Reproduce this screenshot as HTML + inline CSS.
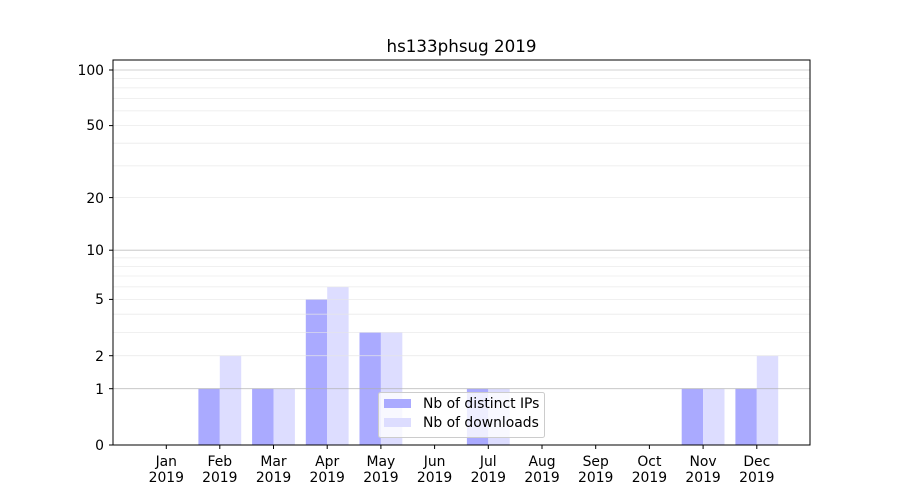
<!DOCTYPE html>
<html><head><meta charset="utf-8"><style>body{margin:0;background:#fff}svg{display:block}text{font-family:"DejaVu Sans","Liberation Sans",sans-serif;font-size:13.9px;fill:#000}</style></head><body>
<svg width="900" height="500" viewBox="0 0 900 500">
<rect width="900" height="500" fill="#fff"/>
<g fill="#aaaaff">
<rect x="198.4" y="388.7" width="21.4" height="56.3"/>
<rect x="252.1" y="388.7" width="21.4" height="56.3"/>
<rect x="305.8" y="299.4" width="21.4" height="145.6"/>
<rect x="359.5" y="332.4" width="21.4" height="112.6"/>
<rect x="466.9" y="388.7" width="21.4" height="56.3"/>
<rect x="681.7" y="388.7" width="21.4" height="56.3"/>
<rect x="735.4" y="388.7" width="21.4" height="56.3"/>
</g>
<g fill="#ddddff">
<rect x="219.8" y="355.7" width="21.4" height="89.3"/>
<rect x="273.5" y="388.7" width="21.4" height="56.3"/>
<rect x="327.2" y="286.9" width="21.4" height="158.1"/>
<rect x="380.9" y="332.4" width="21.4" height="112.6"/>
<rect x="488.3" y="388.7" width="21.4" height="56.3"/>
<rect x="703.1" y="388.7" width="21.4" height="56.3"/>
<rect x="756.8" y="355.7" width="21.4" height="89.3"/>
</g>
<g stroke="#e6e6e6" stroke-width="0.8" opacity="0.8">
<line x1="113" x2="810" y1="355.7" y2="355.7"/><line x1="113" x2="810" y1="332.4" y2="332.4"/><line x1="113" x2="810" y1="314.2" y2="314.2"/><line x1="113" x2="810" y1="299.4" y2="299.4"/><line x1="113" x2="810" y1="286.9" y2="286.9"/><line x1="113" x2="810" y1="276.0" y2="276.0"/><line x1="113" x2="810" y1="266.5" y2="266.5"/><line x1="113" x2="810" y1="257.9" y2="257.9"/>
<line x1="113" x2="810" y1="197.6" y2="197.6"/><line x1="113" x2="810" y1="165.9" y2="165.9"/><line x1="113" x2="810" y1="143.2" y2="143.2"/><line x1="113" x2="810" y1="125.6" y2="125.6"/><line x1="113" x2="810" y1="110.9" y2="110.9"/><line x1="113" x2="810" y1="98.6" y2="98.6"/><line x1="113" x2="810" y1="87.9" y2="87.9"/><line x1="113" x2="810" y1="78.4" y2="78.4"/>
</g>
<g stroke="#b0b0b0" stroke-width="0.8" opacity="0.8">
<line x1="113" x2="810" y1="388.7" y2="388.7"/><line x1="113" x2="810" y1="250.2" y2="250.2"/><line x1="113" x2="810" y1="70" y2="70"/>
</g>
<rect x="113" y="60" width="697" height="385" fill="none" stroke="#000" stroke-width="1"/>
<g stroke="#000" stroke-width="1">
<line x1="113" x2="109" y1="445" y2="445"/><line x1="113" x2="109" y1="388.7" y2="388.7"/><line x1="113" x2="109" y1="355.7" y2="355.7"/><line x1="113" x2="109" y1="299.4" y2="299.4"/><line x1="113" x2="109" y1="250.2" y2="250.2"/><line x1="113" x2="109" y1="197.6" y2="197.6"/><line x1="113" x2="109" y1="125.6" y2="125.6"/><line x1="113" x2="109" y1="70" y2="70"/>
<line x1="166.3" x2="166.3" y1="445" y2="449"/><line x1="219.8" x2="219.8" y1="445" y2="449"/><line x1="273.5" x2="273.5" y1="445" y2="449"/><line x1="327.2" x2="327.2" y1="445" y2="449"/><line x1="380.9" x2="380.9" y1="445" y2="449"/><line x1="434.6" x2="434.6" y1="445" y2="449"/><line x1="488.3" x2="488.3" y1="445" y2="449"/><line x1="542" x2="542" y1="445" y2="449"/><line x1="595.7" x2="595.7" y1="445" y2="449"/><line x1="649.4" x2="649.4" y1="445" y2="449"/><line x1="703.1" x2="703.1" y1="445" y2="449"/><line x1="756.8" x2="756.8" y1="445" y2="449"/>
</g>
<g text-anchor="end">
<text x="104" y="450">0</text><text x="104" y="394">1</text><text x="104" y="361">2</text><text x="104" y="304">5</text><text x="104" y="255">10</text><text x="104" y="203">20</text><text x="104" y="130">50</text><text x="104" y="75">100</text>
</g>
<g text-anchor="middle">
<text x="166.3" y="466">Jan</text><text x="166.3" y="482">2019</text>
<text x="219.8" y="466">Feb</text><text x="219.8" y="482">2019</text>
<text x="273.5" y="466">Mar</text><text x="273.5" y="482">2019</text>
<text x="327.2" y="466">Apr</text><text x="327.2" y="482">2019</text>
<text x="380.9" y="466">May</text><text x="380.9" y="482">2019</text>
<text x="434.6" y="466">Jun</text><text x="434.6" y="482">2019</text>
<text x="488.3" y="466">Jul</text><text x="488.3" y="482">2019</text>
<text x="542" y="466">Aug</text><text x="542" y="482">2019</text>
<text x="595.7" y="466">Sep</text><text x="595.7" y="482">2019</text>
<text x="649.4" y="466">Oct</text><text x="649.4" y="482">2019</text>
<text x="703.1" y="466">Nov</text><text x="703.1" y="482">2019</text>
<text x="756.8" y="466">Dec</text><text x="756.8" y="482">2019</text>
<text x="461.5" y="52" style="font-size:16.7px">hs133phsug 2019</text>
</g>
<rect x="378.5" y="392.5" width="166" height="45" rx="2" fill="#fff" fill-opacity="0.8" stroke="#cccccc"/>
<rect x="384" y="399" width="27" height="9" fill="#aaaaff"/>
<rect x="384" y="418" width="27" height="9" fill="#ddddff"/>
<text x="423" y="408">Nb of distinct IPs</text>
<text x="423" y="427">Nb of downloads</text>
</svg>
</body></html>
